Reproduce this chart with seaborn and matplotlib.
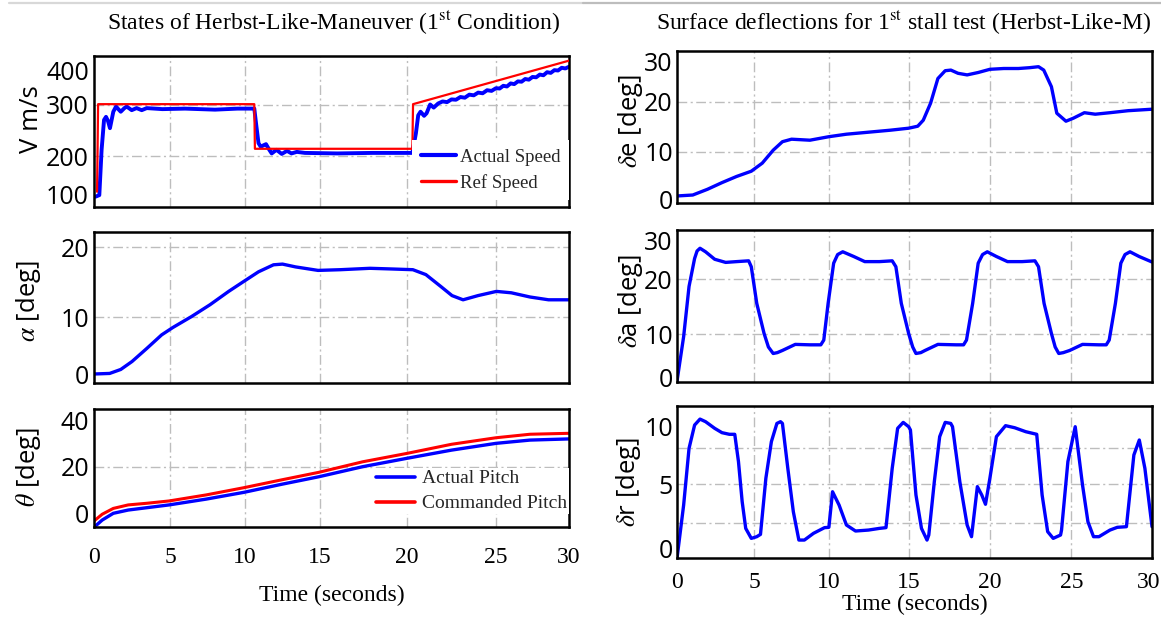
import numpy as np
import matplotlib
matplotlib.use("Agg")
import matplotlib.pyplot as plt
import seaborn as sns
from matplotlib.lines import Line2D
from matplotlib.ticker import FixedLocator

# ---------------- data ----------------
XTICKS = [0, 5, 10, 15, 20, 25, 30]

V_ACT_T = [0.10, 0.35, 0.50, 0.66, 0.79, 0.92, 1.05, 1.27, 1.45, 1.60,
           1.76, 2.00, 2.15, 2.48, 2.80, 3.14, 3.47, 4.50, 6.00, 8.00,
           9.50, 10.62, 10.75, 10.90, 11.05, 11.25, 11.40, 11.60, 11.78, 12.10,
           12.45, 12.80, 13.10, 13.45, 14.00, 16.00, 18.00, 20.30, 20.40, 20.50,
           20.63, 20.76, 20.96, 21.10, 21.30, 21.50, 21.75,
           22.00, 22.25, 22.50, 22.75, 23.00, 23.25, 23.50, 23.75, 24.00, 24.25,
           24.50, 24.75, 25.00, 25.25, 25.50, 25.75, 26.00, 26.25, 26.50, 26.75,
           27.00, 27.25, 27.50, 27.75, 28.00, 28.25, 28.50, 28.75, 29.00, 29.25,
           29.50, 29.75, 30.00]
V_ACT = [93, 97, 212, 270, 276, 268, 254, 286, 296, 291,
         286, 293, 296, 289, 293, 289, 293, 291, 292, 290,
         292, 292, 260, 225, 218, 221, 223, 213, 205, 212,
         204, 210, 205, 208, 206, 205, 206, 206, 225, 244,
         279, 286, 278, 283, 300, 294, 303,
         309, 307, 315, 314, 322, 320, 329, 327, 335, 333,
         342, 340, 348, 347, 355, 353, 362, 360, 368, 367,
         375, 373, 381, 380, 388, 386, 395, 393, 401, 400,
         408, 406, 411]

V_REF_T = [0.20, 0.27, 10.62, 10.66, 20.30, 20.34, 30.00]
V_REF = [106, 301, 301, 214, 214, 301, 429]

ALPHA_T = [0, 1.03, 1.76, 2.5, 3.47, 4.45, 5.19, 6.43, 7.67, 8.91,
           9.9, 10.9, 11.9, 12.5, 13.37, 14.87, 16.17, 17.87, 19.16, 20.33,
           21.06, 21.9, 22.53, 23.15, 23.99, 25.03, 26.05, 27.33, 28.6, 30]
ALPHA = [0, 0.1, 0.8, 2.2, 4.5, 6.9, 8.2, 10.1, 11.8, 13.7,
         15.1, 16.5, 17.5, 17.6, 17.2, 16.7, 16.8, 17.0, 16.9, 16.8,
         16.1, 14.4, 13.1, 12.5, 13.1, 13.7, 13.5, 12.9, 12.5, 12.5]

THETA_T = [0, 0.54, 1.27, 2.25, 3.47, 4.94, 7.42, 9.93, 12.4, 14.93,
           17.45, 20, 22.5, 25, 27.33, 30]
THETA_ACT = [-6, -2.9, 0, 1.4, 2.4, 3.6, 6.1, 9.0, 12.4, 15.7,
             20, 23.6, 27.1, 30, 31.4, 31.9]
THETA_CMD = [-3.3, -0.4, 2.1, 3.6, 4.3, 5.3, 7.9, 11, 14.3, 17.6,
             22.1, 25.7, 29.6, 32.4, 33.9, 34.3]

DE_T = [0, 1.02, 1.97, 2.91, 3.86, 4.81, 5.54, 6.27, 6.89, 7.5,
        8.73, 10, 11.1, 12.48, 13.85, 15, 15.56, 15.9, 16.35, 16.8,
        17.25, 17.6, 18.04, 18.6, 19.28, 20, 20.85, 21.75, 22.42, 22.98,
        23.3, 23.77, 24.1, 24.66, 25.12, 25.83, 26.53, 27.48, 28.65, 30.2]
DE = [0.7, 0.9, 2.1, 3.5, 4.8, 5.9, 7.6, 10.3, 12.0, 12.5,
      12.3, 13.0, 13.5, 13.9, 14.3, 14.7, 15.1, 16.3, 19.7, 25.8,
      27.75, 27.9, 27.1, 26.7, 27.3, 28.1, 28.3, 28.3, 28.5, 28.75,
      27.9, 23.75, 17.7, 16.1, 16.7, 17.8, 17.5, 17.8, 18.2, 18.5]

DA_T = [0, 0.43, 0.78, 1.14, 1.3, 1.49, 1.85, 2.44, 3.15, 3.86,
        4.64, 4.81, 5.17, 5.66, 5.95, 6.27, 6.55, 6.89, 7.75, 8.73,
        9.46, 9.66, 9.95, 10.3, 10.55, 10.87, 11.56, 12.25, 13.17, 13.97,
        14.2, 14.54, 15.0, 15.25, 15.45, 15.75, 16.01, 16.8, 17.93, 18.38,
        18.56, 18.94, 19.28, 19.55, 19.84, 20.4, 21.08, 21.97, 22.76, 22.98,
        23.32, 23.77, 24.0, 24.22, 24.5, 24.89, 25.71, 26.77, 27.24, 27.43,
        27.83, 28.18, 28.45, 28.77, 29.36, 30.19]
DA = [-0.9, 9.4, 18.7, 25.3, 27.2, 27.9, 27.0, 25.1, 24.3, 24.5,
      24.7, 23.2, 15.6, 10.1, 7.0, 5.5, 5.7, 6.2, 7.6, 7.5,
      7.5, 8.6, 15.6, 24.1, 26.3, 27.0, 25.8, 24.5, 24.5, 24.7,
      23.2, 15.6, 10.1, 7.0, 5.5, 5.7, 6.2, 7.6, 7.5, 7.5,
      8.6, 15.6, 24.1, 26.3, 27.0, 25.8, 24.5, 24.5, 24.7, 23.2,
      15.6, 10.1, 7.0, 5.5, 5.7, 6.2, 7.6, 7.5, 7.5, 8.6,
      15.6, 24.1, 26.3, 27.0, 25.8, 24.4]

DR_T = [0, 0.43, 0.78, 1.14, 1.49, 1.85, 2.44, 2.91, 3.39, 3.74,
        3.98, 4.22, 4.45, 4.81, 5.17, 5.42, 5.78, 6.15, 6.52, 6.76,
        6.89, 7.25, 7.62, 7.99, 8.36, 8.97, 9.71, 10.0, 10.23, 10.64,
        11.1, 11.67, 12.48, 13.17, 13.58, 13.97, 14.31, 14.66, 15.0, 15.11,
        15.45, 15.79, 16.13, 16.24, 16.58, 16.91, 17.25, 17.59, 17.7, 18.15,
        18.6, 18.87, 19.23, 19.5, 19.73, 20.0, 20.4, 20.96, 21.52, 22.2,
        22.87, 23.2, 23.54, 23.88, 24.33, 24.39, 24.78, 25.24, 25.71, 26.06,
        26.42, 26.77, 27.48, 27.95, 28.54, 29.02, 29.37, 29.73, 30.19]
DR = [-0.89, 3.64, 7.5, 10.19, 10.88, 10.58, 9.81, 9.31, 9.12, 9.12,
      6.57, 3.86, 1.96, 1.01, 1.17, 1.39, 5.4, 8.27, 10.38, 10.58,
      10.38, 6.1, 3.21, 0.85, 0.85, 1.49, 2.03, 2.06, 4.5, 3.64,
      2.28, 1.71, 1.8, 1.96, 2.03, 6.1, 9.81, 10.5, 10.0, 9.62,
      4.29, 1.96, 0.85, 1.33, 5.16, 8.85, 10.5, 10.38, 10.0, 5.16,
      2.28, 1.17, 4.83, 4.29, 3.69, 5.4, 8.85, 10.12, 9.88, 9.42,
      9.12, 4.29, 1.65, 1.01, 1.33, 1.8, 6.57, 10.0, 4.94, 2.56,
      1.17, 1.17, 1.8, 2.06, 2.12, 7.03, 8.46, 6.1, 2.12]

TITLE_L = r"States of Herbst-Like-Maneuver (1$^{\mathrm{st}}$ Condition)"
TITLE_R = r"Surface deflections for 1$^{\mathrm{st}}$ stall test (Herbst-Like-M)"

# ---------------- style ----------------
sns.set_theme(style="white")
SERIF = ["Liberation Serif", "DejaVu Serif"]
SANS = ["Open Sans", "DejaVu Sans"]
plt.rcParams["font.family"] = SERIF
plt.rcParams["mathtext.fontset"] = "stix"

BLUE = "#0000ff"
RED = "#ff0000"
GRID_KW = dict(color="#bdbdbd", linewidth=1.0, linestyle=(0, (7, 2.5, 1.5, 2.5)))

W, H = 1161, 618
fig = plt.figure(figsize=(W / 100, H / 100), dpi=100, facecolor="white")


def px_box(l, t, r, b):
    return [l / W, 1 - b / H, (r - l) / W, (b - t) / H]


def pw_funcs(vals, pos):
    a = np.asarray(vals, float)
    b = np.asarray(pos, float)

    def _map(x, p, q):
        x = np.asarray(x, float)
        y = np.interp(x, p, q)
        lo = (q[1] - q[0]) / (p[1] - p[0])
        hi = (q[-1] - q[-2]) / (p[-1] - p[-2])
        y = np.where(x < p[0], q[0] + (x - p[0]) * lo, y)
        y = np.where(x > p[-1], q[-1] + (x - p[-1]) * hi, y)
        return y

    return (lambda x: _map(x, a, b)), (lambda y: _map(y, b, a))


LEFT_X = dict(pos=[94, 170, 245, 320, 407, 496, 569], frame=(94, 569))
RIGHT_X = dict(pos=[237, 448, 652, 870, 1092, 1315, 1527], frame=(237, 1535))


def setup(ax, xm, yvals, ypx, yframe, yticks, ygrid, show_x, ylabel, ylab_xy,
          ypad, xpad):
    fx, ix = pw_funcs(XTICKS, xm["pos"])
    ax.set_xscale("function", functions=(fx, ix))
    ax.set_xlim(float(ix(xm["frame"][0])), float(ix(xm["frame"][1])))
    neg = [-p for p in ypx]
    fy, iy = pw_funcs(yvals, neg)
    ax.set_yscale("function", functions=(fy, iy))
    ax.set_ylim(float(iy(-yframe[1])), float(iy(-yframe[0])))

    ax.set_xticks(XTICKS)
    ax.set_xticklabels([str(v) for v in XTICKS])
    ax.set_yticks(yticks)
    ax.set_yticklabels([str(v) for v in yticks])
    ax.xaxis.set_minor_locator(FixedLocator([5, 10, 15, 20, 25]))
    ax.yaxis.set_minor_locator(FixedLocator(ygrid))
    ax.xaxis.remove_overlapping_locs = False
    ax.yaxis.remove_overlapping_locs = False
    ax.grid(False, which="major")
    ax.grid(True, which="minor", **GRID_KW)
    ax.set_axisbelow(True)
    ax.tick_params(which="both", length=0)
    ax.tick_params(axis="y", labelsize=18, labelfontfamily=SANS, pad=ypad,
                   labelcolor="black")
    ax.tick_params(axis="x", labelsize=17, labelfontfamily=SERIF, pad=xpad,
                   labelbottom=show_x, labelcolor="black")
    for s in ax.spines.values():
        s.set_color("black")
        s.set_linewidth(1.8)
        s.set_visible(True)
    ax.set_ylabel(ylabel, fontsize=18.5, family=SANS, color="black")
    ax.yaxis.set_label_coords(*ylab_xy)


def line(ax, x, y, color, lw, z=2):
    sns.lineplot(x=x, y=y, ax=ax, color=color, linewidth=lw, estimator=None,
                 sort=False, zorder=z)


# ---------------- left column ----------------
ax1 = fig.add_axes(px_box(94, 56, 569, 207))
line(ax1, V_REF_T, V_REF, RED, 1.6, 3)
line(ax1, V_ACT_T, V_ACT, BLUE, 2.8, 2)
setup(ax1, LEFT_X, [100, 200, 300, 400], [194, 156, 104.5, 70.5], (56, 207),
      [100, 200, 300, 400], [200, 300], False, "V m/s", (-0.105, 0.58), 3.6, 14.5)
ax1.legend(handles=[Line2D([], [], color=BLUE, lw=3.0),
                    Line2D([], [], color=RED, lw=2.4)],
           labels=["Actual Speed", "Ref Speed"], loc="lower right",
           bbox_to_anchor=(1.0, 0.046), borderaxespad=0.0, frameon=True,
           facecolor="white", edgecolor="none", framealpha=1, fancybox=False,
           handlelength=1.9, handletextpad=0.2, labelspacing=0.42,
           borderpad=0.45, prop={"family": SERIF, "size": 13.5})

ax2 = fig.add_axes(px_box(94, 232, 569, 383))
line(ax2, ALPHA_T, ALPHA, BLUE, 2.4)
setup(ax2, LEFT_X, [0, 10, 20], [374, 317.3, 247.3], (232, 383),
      [0, 10, 20], [10, 20], False, r"$\alpha$ [deg]", (-0.108, 0.545), 3.6, 14.5)

ax3 = fig.add_axes(px_box(94, 409, 569, 527))
line(ax3, THETA_T, THETA_ACT, BLUE, 2.4)
line(ax3, THETA_T, THETA_CMD, RED, 2.2)
setup(ax3, LEFT_X, [0, 20, 40], [513.3, 466.7, 420], (409, 527),
      [0, 20, 40], [20], True, r"$\theta$ [deg]", (-0.107, 0.51), 3.6, 14.5)
ax3.legend(handles=[Line2D([], [], color=BLUE, lw=2.6),
                    Line2D([], [], color=RED, lw=2.6)],
           labels=["Actual Pitch", "Commanded Pitch"], loc="lower right",
           bbox_to_anchor=(1.0, 0.11), borderaxespad=0.0, frameon=True,
           facecolor="white", edgecolor="none", framealpha=1, fancybox=False,
           handlelength=2.0, handletextpad=0.4, labelspacing=0.38,
           borderpad=0.08, prop={"family": SERIF, "size": 14})
ax3.set_xlabel("Time (seconds)", fontsize=17, family=SERIF, color="black")
ax3.xaxis.set_label_coords(0.5, -0.49)

# ---------------- right column ----------------
ax4 = fig.add_axes(px_box(677, 51, 1152, 203))
line(ax4, DE_T, DE, BLUE, 2.4)
setup(ax4, RIGHT_X, [0, 10, 20, 30], [199.3, 151.7, 101.7, 61.7], (51, 203),
      [0, 10, 20, 30], [10, 20], False, r"$\delta$e [deg]", (-0.068, 0.54), 3, 10)

ax5 = fig.add_axes(px_box(677, 230, 1152, 382))
line(ax5, DA_T, DA, BLUE, 2.4)
setup(ax5, RIGHT_X, [0, 10, 20, 30], [377.3, 334, 279.3, 240], (230, 382),
      [0, 10, 20, 30], [10, 20], False, r"$\delta$a [deg]", (-0.068, 0.535), 3, 10)

ax6 = fig.add_axes(px_box(677, 406, 1152, 558))
line(ax6, DR_T, DR, BLUE, 2.4)
setup(ax6, RIGHT_X, [0, 2.5, 5, 7.5, 10], [549, 522.7, 484, 448.3, 426.7],
      (406, 558), [0, 5, 10], [2.5, 5, 7.5], True, r"$\delta$r [deg]",
      (-0.072, 0.50), 3, 10)
ax6.set_xlabel("Time (seconds)", fontsize=17, family=SERIF, color="black")
ax6.xaxis.set_label_coords(0.5, -0.235)

# ---------------- titles and top rule ----------------
fig.text(334 / W, 1 - 22.5 / H, TITLE_L, ha="center", va="center",
         fontsize=17, family=SERIF, color="black")
fig.text(904 / W, 1 - 22.5 / H, TITLE_R, ha="center", va="center",
         fontsize=17, family=SERIF, color="black")
fig.add_artist(Line2D([9 / W, 583 / W], [1 - 3.2 / H, 1 - 3.2 / H],
                      transform=fig.transFigure, color="#d8d8d8", lw=1.6))
fig.add_artist(Line2D([583 / W, 1.0], [1 - 3.2 / H, 1 - 3.2 / H],
                      transform=fig.transFigure, color="#bdbdbd", lw=1.6))

fig.savefig("out.png", dpi=100, facecolor="white")
